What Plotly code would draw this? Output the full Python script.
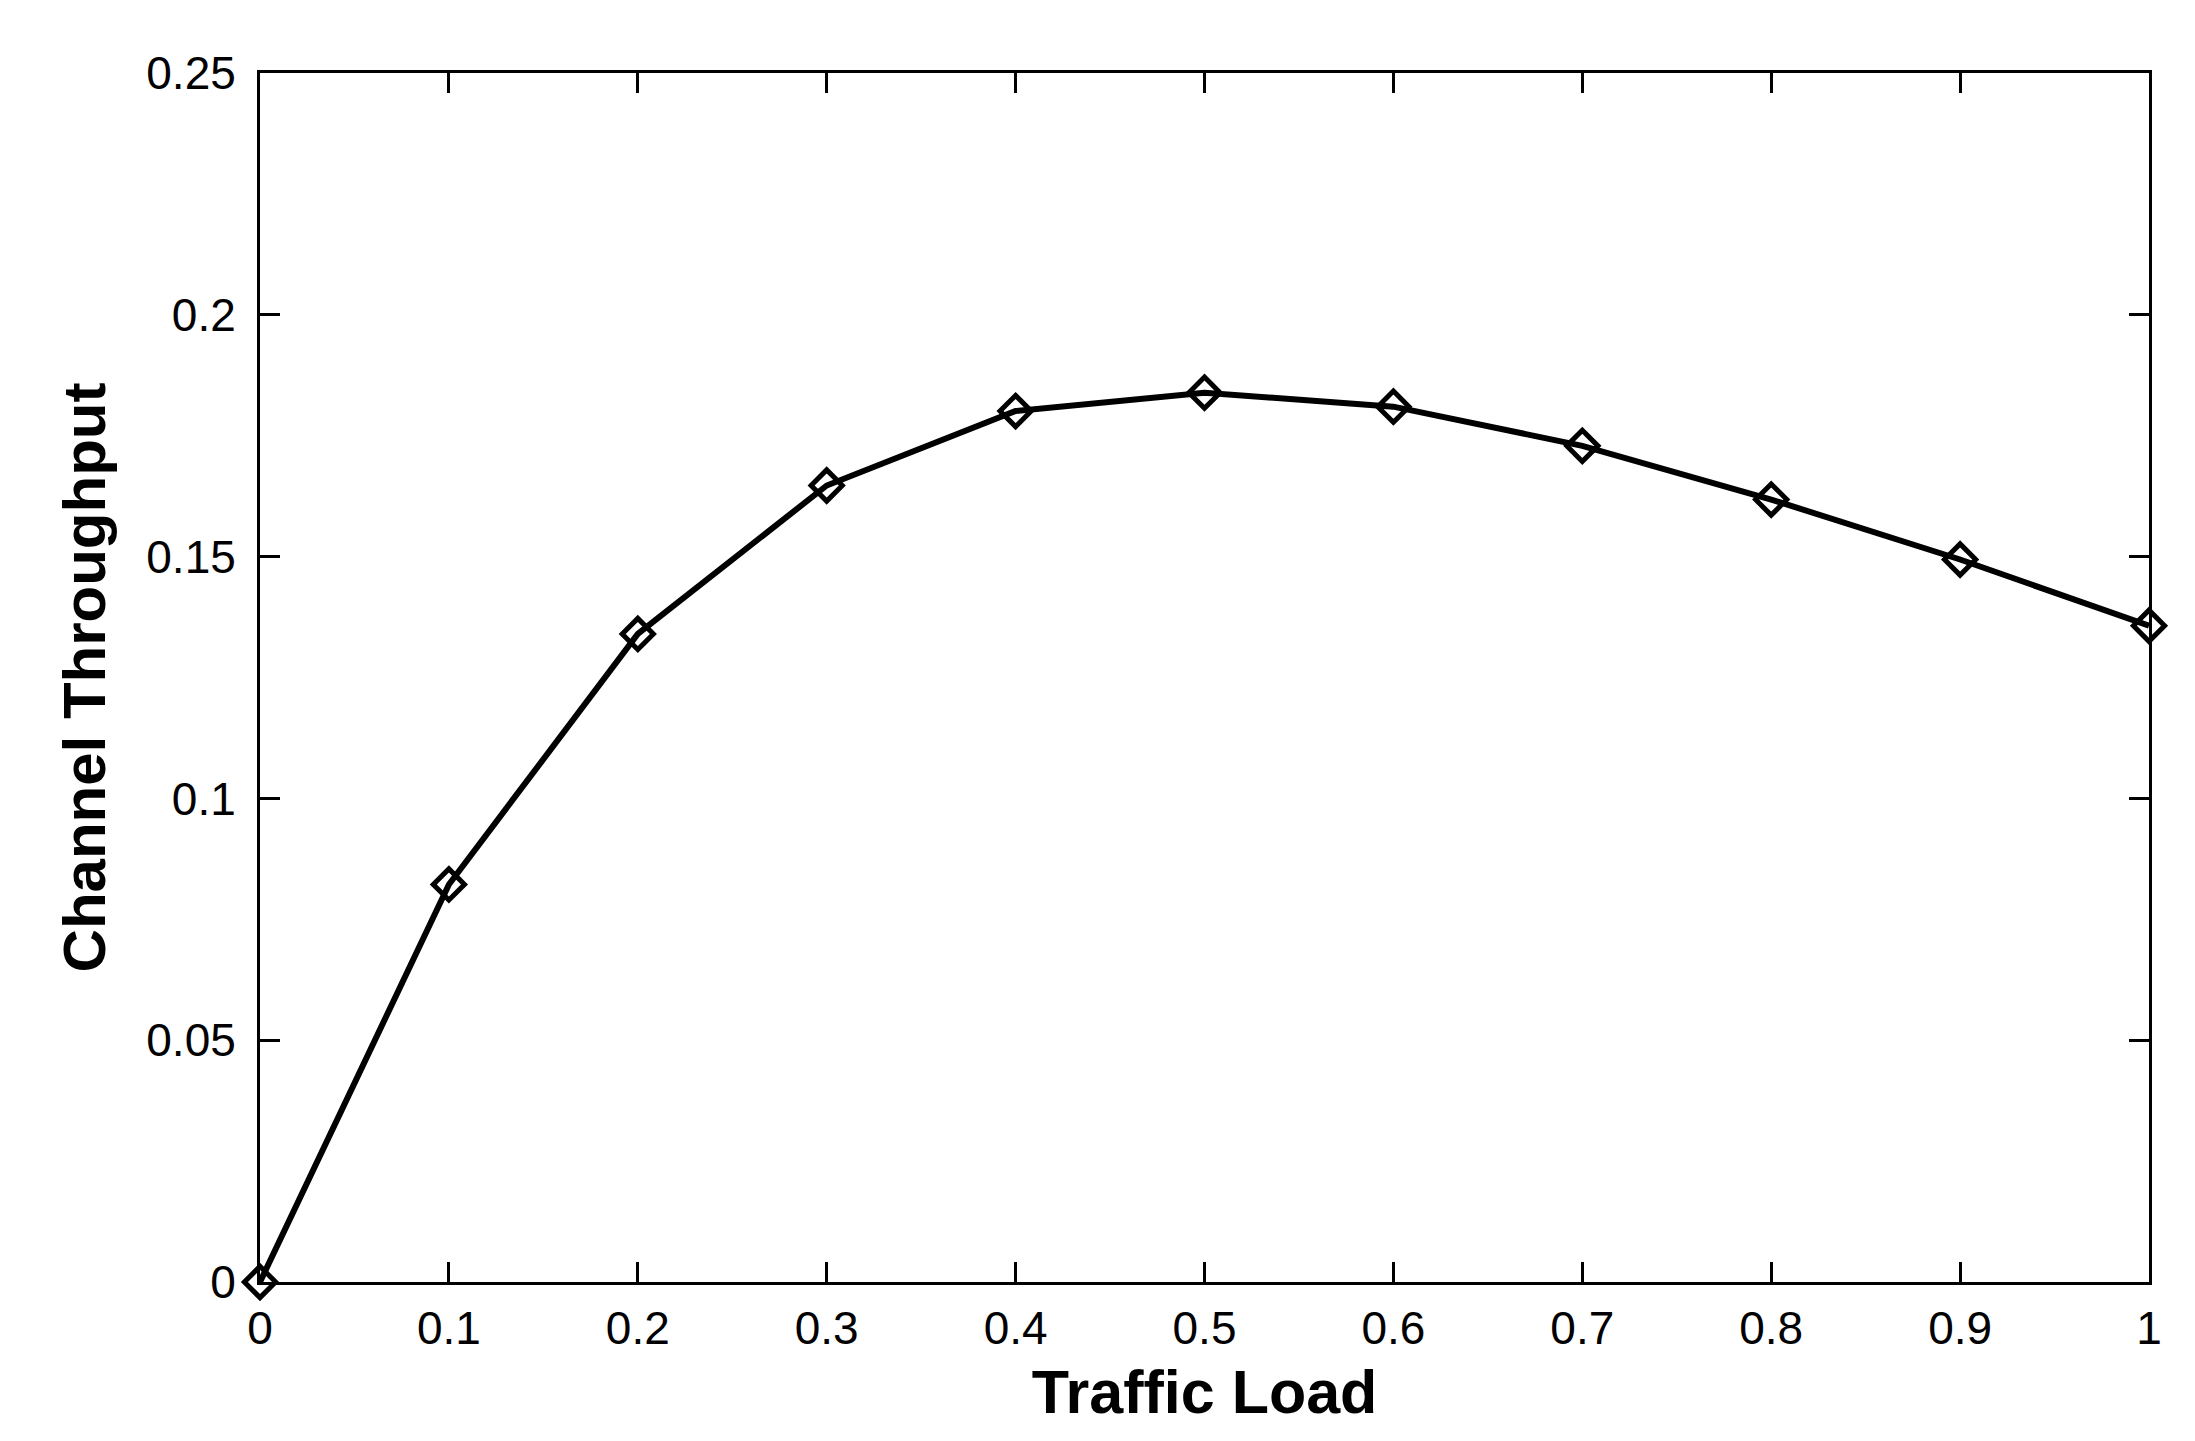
import plotly.graph_objects as go

traffic_load = [0.0, 0.1, 0.2, 0.3, 0.4, 0.5, 0.6, 0.7, 0.8, 0.9, 1.0]
throughput = [0.0, 0.0822, 0.134, 0.1647, 0.1801, 0.1839, 0.1810, 0.1729, 0.1618, 0.1494, 0.1357]

x_ticks = [0, 0.1, 0.2, 0.3, 0.4, 0.5, 0.6, 0.7, 0.8, 0.9, 1]
x_labels = ["0", "0.1", "0.2", "0.3", "0.4", "0.5", "0.6", "0.7", "0.8", "0.9", "1"]
y_ticks = [0, 0.05, 0.1, 0.15, 0.2, 0.25]
y_labels = ["0", "0.05", "0.1", "0.15", "0.2", "0.25"]

FONT = "Liberation Sans, Arial, sans-serif"

fig = go.Figure()
fig.add_trace(go.Scatter(
    x=traffic_load,
    y=throughput,
    mode="lines+markers",
    line=dict(color="black", width=6),
    marker=dict(symbol="diamond-open", size=24, color="black", line=dict(width=5)),
    cliponaxis=False,
    showlegend=False,
))

axis_common = dict(
    showgrid=False,
    zeroline=False,
    showline=True,
    linecolor="black",
    linewidth=3,
    mirror="ticks",
    ticks="inside",
    ticklen=20,
    tickwidth=3,
    tickcolor="black",
    tickfont=dict(family=FONT, size=46, color="black"),
)

fig.update_xaxes(
    range=[0, 1],
    tickvals=x_ticks,
    ticktext=x_labels,
    ticklabelstandoff=4,
    title=dict(text="<b>Traffic Load</b>", standoff=18,
               font=dict(family=FONT, size=61, color="black")),
    **axis_common,
)
fig.update_yaxes(
    range=[0, 0.25],
    tickvals=y_ticks,
    ticktext=y_labels,
    ticklabelstandoff=12,
    title=dict(text="<b>Channel Throughput</b>", standoff=22,
               font=dict(family=FONT, size=60, color="black")),
    **axis_common,
)

fig.update_layout(
    width=2179,
    height=1425,
    margin=dict(l=252, r=38, t=65, b=151),
    plot_bgcolor="white",
    paper_bgcolor="white",
)

fig.write_html("out.html")
